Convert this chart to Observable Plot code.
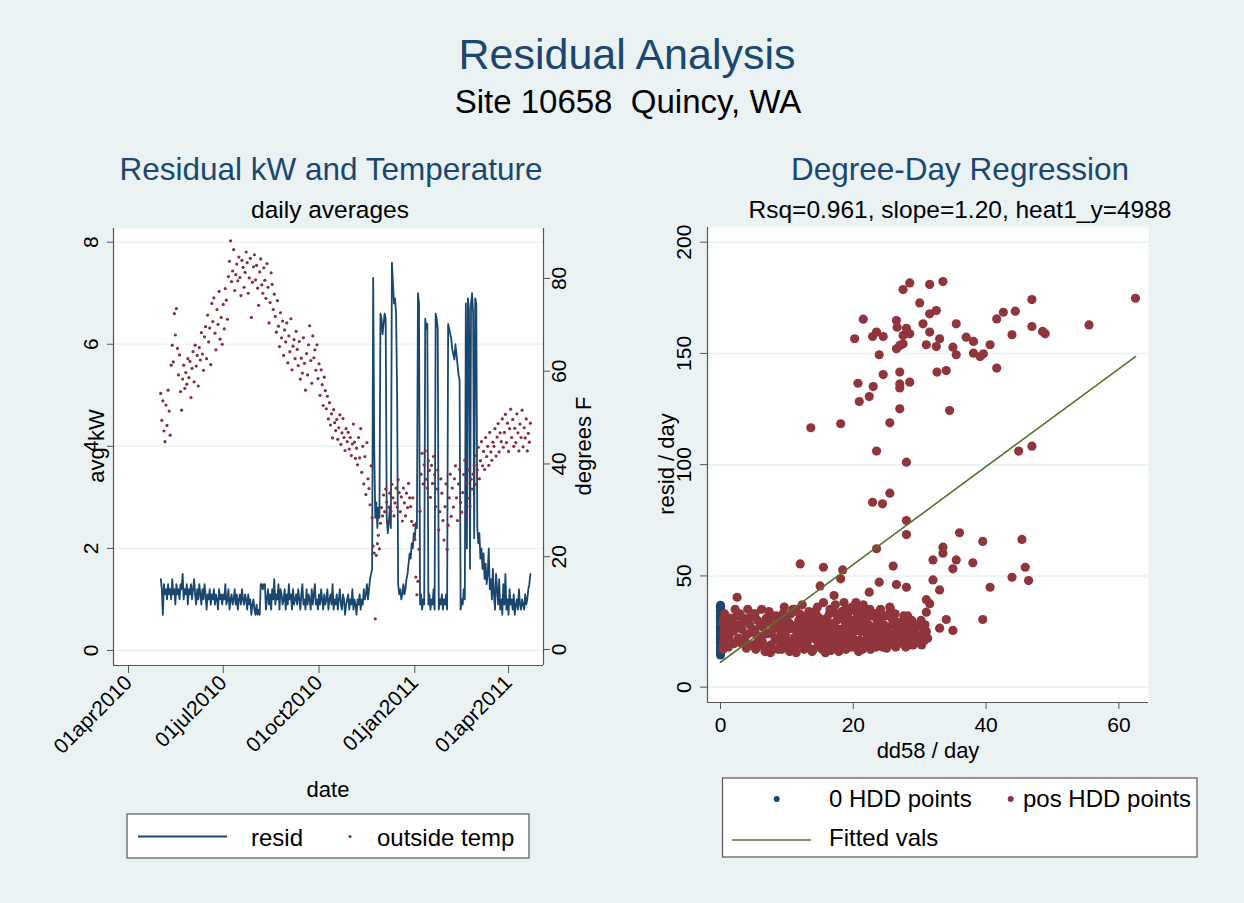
<!DOCTYPE html>
<html><head><meta charset="utf-8">
<script src="https://cdn.jsdelivr.net/npm/d3@7"></script>
<script src="https://cdn.jsdelivr.net/npm/@observablehq/plot@0.6"></script>
<style>
html,body{margin:0;padding:0;background:#ffffff;}
#chart{position:relative;width:1244px;height:903px;background:#eaf2f3;overflow:hidden;font-family:"Liberation Sans",Arial,Helvetica,sans-serif;}
#chart svg{position:absolute;overflow:visible;}
</style></head><body><div id="chart"></div>
<script>
// ---------------- DATA ----------------
const startDate = "2010-05-02"; // first daily observation
// daily average outside temperature (deg F), one value per day from startDate
const tempF = [
55.2,49.4,53.6,47.1,44.8,52.7,48.3,55.9,51.4,46.2, 61.3,65.6,62.0,72.4,67.8,73.5,64.9,59.2,63.5,55.6,
51.6,58.3,61.3,56.3,59.7,57.2,62.7,58.6,62.1,54.3, 60.6,64.2,57.7,65.6,61.1,63.4,56.8,65.1,62.4,68.3,
63.7,60.2,67.4,69.6,62.7,72.1,66.3,69.3,61.4,74.6, 70.7,75.8,68.2,64.6,73.3,70.1,77.2,66.9,71.6,65.8,
74.4,69.1,77.8,75.3,71.2,80.4,83.7,88.1,79.3,81.6, 86.2,77.4,80.8,83.1,79.5,84.6,80.2,76.3,83.9,82.4,
78.1,81.3,85.7,83.4,76.8,80.1,84.3,71.6,79.2,82.5, 85.1,79.7,82.8,77.9,74.2,81.4,84.2,78.6,76.8,82.3,
79.6,75.7,83.2,78.1,70.4,74.8,81.2,78.7,73.3,76.6, 71.8,68.4,75.2,69.7,65.3,72.6,67.2,70.8,63.4,68.9,
66.3,70.4,61.8,67.6,64.2,71.3,60.3,65.4,66.8,62.7, 68.6,64.7,61.2,66.4,58.3,62.8,59.6,67.2,61.7,55.9,
63.8,59.2,65.7,69.8,62.3,57.4,67.6,62.9,64.6,60.2, 65.7,58.4,61.6,54.8,60.3,57.1,52.6,58.7,55.8,51.9,
54.6,49.7,53.2,48.4,50.8,45.6,51.7,48.9,47.2,49.6, 45.3,47.8,50.6,44.2,46.7,49.8,45.7,42.9,47.6,44.8,
46.8,43.2,45.7,41.8,44.3,48.6,44.7,41.2,43.4,39.8, 45.7,41.3,47.6,38.2,43.8,35.7,41.6,33.4,44.6,36.8,
34.7,31.2,39.6,28.4,22.3,20.8,6.6,20.3,22.8,24.6, 21.7,27.2,30.6,28.8,33.3,29.7,34.6,31.8,27.6,30.7,
33.7,29.8,35.6,32.7,28.8,31.6,34.8,30.7,36.6,33.8, 29.7,32.9,27.7,34.8,31.6,28.8,33.7,30.6,35.8,32.7,
30.8,27.6,32.7,26.8,23.7,15.6,11.8,14.7,21.6,29.8, 37.8,42.3,35.7,39.8,42.8,36.7,34.8,40.7,38.6,32.8,
39.7,35.8,41.6,37.7,30.8,34.6,38.7,25.8,29.7,36.8, 33.7,27.8,23.6,30.8,35.7,21.6,26.8,32.7,37.8,28.7,
34.8,30.7,36.8,39.6,32.7,27.8,35.7,38.8,31.7,29.6, 33.8,37.7,40.8,28.7,35.8,32.6,38.7,30.8,36.7,34.6,
37.8,39.7,35.6,41.8,38.7,43.6,36.8,40.7,44.8,39.6, 42.7,38.8,45.7,41.6,43.8,39.7,46.8,42.6,40.8,44.7,
43.8,47.6,41.7,45.8,48.7,42.6,46.7,44.8,49.7,43.6, 46.8,50.7,44.6,48.8,42.7,47.6,51.8,45.7,49.6,43.8,
47.7,44.6,50.8,46.7,42.8,48.6,45.7,51.6,43.7,47.8, 45.6,49.7,42.8,46.6,44.7,48.8
];
// daily average residual kW, one value per day from startDate
const residKW = [
1.4,1.2,0.7,1.3,1.1,1.2,1.0,1.3,1.1,1.2, 1.0,1.4,1.1,1.2,0.9,1.3,1.1,1.2,1.0,1.3,
1.2,1.5,1.0,1.2,1.1,1.3,0.9,1.2,1.1,1.3, 1.0,1.2,1.4,1.1,0.9,1.2,1.0,1.3,1.1,0.9,
1.2,1.0,1.3,1.1,0.8,1.1,1.0,1.2,0.9,1.1, 1.0,1.2,0.9,1.1,1.0,0.8,1.2,1.0,1.1,0.9,
1.1,1.0,1.3,0.9,1.0,1.2,0.8,1.0,1.1,0.9, 1.0,1.2,0.9,1.1,0.8,1.0,1.1,0.9,1.2,1.0,
0.9,1.1,1.0,0.8,1.1,0.9,1.0,0.7,0.9,1.0, 0.8,0.7,0.9,0.7,0.8,0.7,1.3,1.3,1.2,1.3,
1.3,0.8,1.0,1.2,0.9,1.1,0.8,1.2,1.0,1.4, 0.9,1.1,1.0,1.3,0.8,1.2,1.1,0.9,1.0,1.2,
0.8,1.1,0.9,1.3,1.0,1.1,0.8,1.2,0.9,1.0, 1.1,0.9,1.2,1.0,0.8,1.1,1.3,0.9,1.0,0.8,
1.2,0.9,1.1,1.0,0.8,1.2,0.9,1.1,1.3,0.9, 1.0,0.8,1.1,0.9,1.2,1.0,0.8,1.1,0.9,1.0,
1.2,0.8,1.0,1.1,0.9,1.3,0.8,1.0,0.9,1.1, 0.8,1.0,1.2,0.9,0.8,1.1,1.0,0.7,0.9,1.0,
1.1,0.8,1.0,0.9,1.2,0.8,1.0,0.9,0.7,1.0, 0.9,1.1,0.8,1.0,0.9,1.2,1.0,1.1,1.3,1.0,
1.2,1.4,1.5,1.6,7.3,4.0,2.6,2.9,2.4,2.8, 2.6,6.6,6.5,6.2,6.4,6.6,6.5,2.6,2.3,2.5,
2.8,2.4,7.6,7.2,6.8,6.9,6.6,5.0,1.3,1.1, 1.2,1.0,1.1,1.3,1.1,1.2,1.4,1.5,1.7,1.9,
1.8,2.1,2.0,2.3,2.2,2.5,2.4,7.0,6.8,0.9, 1.1,0.8,1.0,0.9,6.5,6.3,6.4,0.9,1.1,0.8,
1.0,0.9,1.2,0.8,6.6,6.5,6.3,0.8,1.0,0.9, 1.1,0.8,1.0,0.9,1.1,0.8,6.4,6.3,6.2,6.1,
5.9,5.8,5.7,6.0,5.8,5.6,5.4,5.3,0.8,1.0, 0.9,1.2,1.0,6.8,2.0,6.9,6.7,1.6,6.8,7.0,
6.6,2.2,6.9,6.8,2.4,2.1,2.3,1.8,2.0,1.6, 1.9,1.4,1.7,1.3,1.5,2.0,1.2,1.4,1.0,1.6,
1.1,0.8,1.5,1.2,0.9,1.4,0.8,1.0,0.7,1.3, 0.9,1.5,0.8,1.0,0.7,1.2,0.9,1.0,0.8,1.1,
0.7,0.9,1.0,0.8,1.2,0.9,0.8,1.0,0.9,0.8, 1.1,0.9,1.0,1.2,1.3,1.5
];
const dateTicks = ["2010-04-01","2010-07-01","2010-10-01","2011-01-01","2011-04-01"];
const kwTicks = [0,2,4,6,8];
const tempTicks = [0,20,40,60,80];
// right-hand temperature axis alignment with the kW axis (kW position of 0 F and 80 F)
const tempAxisAt0 = 0.02, tempAxisAt80 = 7.29;

// Degree-day regression: residual per day vs dd58 per day
const zeroHddResid = [14.5,15.8,17.2,18.1,19.6,20.4,21.9,22.7,23.3,24.8,25.5,26.1,27.4,28.9,29.5,30.2,31.7,32.4,33.8,34.6,35.9,36.8,16.5,21.2,26.7,30.9];
const posHddPoints = [
[13.6,116.6],[18.1,118.4],[20.2,156.6],[21.5,165.4],[20.7,136.6],[20.9,128.4],[22.4,130.6],[23.0,135.1],[22.9,157.6],[23.5,159.6],
[24.5,157.6],[23.9,149.4],[24.5,140.5],[23.5,106.1],[25.5,118.8],[27.0,125.1],[27.0,141.6],[27.0,136.3],[27.0,134.5],[28.5,137.1],
[28.0,101.1],[27.5,178.7],[28.5,181.7],[26.5,164.8],[26.6,161.8],[28.0,161.3],[28.5,158.8],[27.5,158.1],[27.5,154.3],[26.5,152.1],
[27.0,153.6],[30.0,172.7],[30.5,163.3],[31.5,181.0],[31.5,167.8],[32.5,169.3],[31.5,159.6],[31.0,153.9],[33.0,156.6],[32.5,153.1],
[32.6,141.6],[33.5,182.3],[34.0,142.3],[34.5,124.3],[35.0,152.8],[35.5,163.3],[35.5,149.4],[37.0,157.3],[38.1,155.4],[38.1,150.1],
[39.1,148.6],[39.6,149.8],[40.6,153.9],[41.6,165.5],[42.6,168.5],[41.6,143.4],[43.9,158.4],[44.4,169.0],[44.9,106.1],[46.9,108.3],
[46.9,174.2],[46.9,162.1],[48.5,159.9],[48.9,158.8],[55.5,162.8],[62.5,174.8],
[22.9,83.1],[24.4,82.4],[25.5,87.2],[28.0,74.9],[28.0,68.6],[23.5,62.2],[36.0,69.4],[39.5,65.5],[45.4,66.4],[32.0,57.2],
[33.5,62.9],[33.5,60.2],[35.5,57.2],[38.0,55.9],[35.0,53.2],[45.9,53.9],[46.4,47.9],[43.9,49.4],[40.6,44.9],[32.0,48.2],
[33.0,43.7],[31.0,39.3],[31.5,37.5],[31.0,33.7],[34.0,30.4],[39.5,30.4],[33.0,26.5],[35.0,25.5],[12.0,55.4],[15.5,53.9],
[15.0,45.5],[18.4,52.7],[18.1,48.7],[17.1,41.2],[22.4,42.7],[23.9,47.2],[26.0,54.4],[26.5,46.1],[28.0,44.9],[28.0,31.2],
[25.5,36.0],[2.5,40.4],
[0.4,29],[0.5,24],[0.4,19],[0.6,33],[0.7,27],[0.5,21],
[1.5,31],[1.8,25],[2.2,35],[2.5,28],[2.7,22],[1.2,18],[2.9,33],
[3.2,26],[3.5,31],[3.8,23],[4.1,35],[4.4,28],[4.6,19],[4.8,33],[3.6,21],
[5.1,25],[5.3,17],[5.6,30],[5.9,22],[6.2,35],[6.4,27],[6.7,16],[6.9,31],[5.5,20],
[7.1,24],[7.3,34],[7.6,19],[7.9,28],[8.2,22],[8.4,32],[8.7,17],[8.9,26],[7.5,15.5],
[9.1,30],[9.3,20],[9.6,36],[9.8,24],[10.1,18],[10.3,29],[10.6,33],[10.8,21],[9.5,27],[10.4,16],
[11.1,26],[11.3,35],[11.6,19],[11.8,30],[12.1,23],[12.3,37],[12.6,17],[12.8,28],[11.4,15.5],[12.2,32],
[13.1,21],[13.3,34],[13.6,26],[13.8,16],[14.1,30],[14.3,24],[14.6,36],[14.8,19],[13.5,29],[14.4,33],
[15.1,27],[15.3,17],[15.5,38],[15.7,22],[16.0,31],[16.2,25],[16.5,35],[16.7,19],[16.9,28],[15.8,15.5],[16.4,33],
[17.1,23],[17.3,37],[17.5,30],[17.8,16],[18.0,26],[18.3,34],[18.5,20],[18.8,29],[17.6,21],[18.6,38],[18.2,17],
[19.1,32],[19.3,24],[19.6,18],[19.8,36],[20.1,27],[20.3,21],[20.6,33],[20.8,16],[19.5,28],[20.4,38],
[21.1,25],[21.3,30],[21.6,19],[21.8,35],[22.1,23],[22.3,28],[22.6,17],[22.8,32],[21.5,37],[22.4,21],
[23.1,26],[23.3,20],[23.6,30],[23.9,24],[24.1,35],[24.4,18],[24.6,28],[24.9,22],[23.5,33],
[25.2,27],[25.5,20],[25.8,31],[26.1,24],[26.4,18],[26.7,29],[26.9,22],[25.6,35],[26.3,33],
[27.2,26],[27.5,20],[27.8,30],[28.1,24],[28.4,19],[28.7,28],[28.9,22],[28.2,32],
[29.2,25],[29.5,20],[29.8,28],[30.1,23],[30.4,27],[30.7,21],[31.0,25],[30.3,19],
[1.0,27],[1.3,22],[1.7,29],[2.0,19.5],[2.4,32],[2.0,25.5],[3.0,20],[3.3,29],[3.9,17.5],[4.2,24],[4.5,31.5],[4.9,26],
[5.2,33],[5.4,23.5],[5.8,18.5],[6.0,27.5],[6.3,20.5],[6.6,29],[6.8,24],[7.0,18],[7.2,29.5],[7.7,25],[7.8,32],[8.0,17],[8.3,27],[8.6,21],[8.8,30],
[9.0,23],[9.2,17],[9.4,33],[9.7,21.5],[9.9,31],[10.2,26],[10.5,19],[10.7,27.5],[10.9,35],
[11.0,22],[11.2,17.5],[11.5,28],[11.7,24],[11.9,33],[12.0,20],[12.4,26],[12.7,31],[12.9,19],
[13.0,24],[13.2,18],[13.4,31],[13.7,22],[13.9,28],[14.0,17],[14.2,34],[14.5,21],[14.7,27],[14.9,31],
[15.0,20],[15.2,24],[15.4,30],[15.6,18],[15.9,27],[16.1,21],[16.3,29],[16.6,16.5],[16.8,24],[16.9,35],
[17.0,19],[17.2,27],[17.4,33],[17.7,24],[17.9,18.5],[18.1,31],[18.4,23],[18.7,26],[18.9,17],[18.9,35],
[19.0,21],[19.2,27],[19.4,34],[19.7,22],[19.9,30],[20.0,18],[20.2,25],[20.5,29],[20.7,19],[20.9,35],
[21.0,21],[21.2,27],[21.4,17],[21.7,32],[21.9,20],[22.0,29],[22.2,25],[22.5,35],[22.7,19],[22.9,27],
[23.0,23],[23.2,33],[23.4,18],[23.7,27],[23.8,21],[24.0,31],[24.3,25],[24.5,20],[24.8,32],[24.9,26],
[25.0,17.5],[25.3,24],[25.4,33],[25.7,22],[25.9,28],[26.0,19],[26.2,30],[26.5,25],[26.8,19.5],
[27.0,29],[27.3,23],[27.6,32],[27.9,18],[28.0,27],[28.3,21],[28.6,25],[28.8,30],
[29.0,19],[29.3,27],[29.6,23],[29.9,21],[30.2,30],[30.5,24],[30.8,28],[31.2,22],
[0.5,31],[0.6,26],[0.4,17],[0.7,23],[0.8,29]
];
const fittedDD = [0, 62.5];
const fittedResid = [11.2, 148.6];
const ddTicks = [0,20,40,60];
const residTicks = [0,50,100,150,200];

// ---------------- STYLE ----------------
const FONT = '"Liberation Sans", Arial, Helvetica, sans-serif';
const navy = "#1a476f", maroon = "#90353b", green = "#55752f";
const gridColor = "#eaf2f3", axisColor = "#555555";

const start = new Date(startDate + "T00:00Z");
const daily = residKW.map((v, i) => ({date: d3.utcDay.offset(start, i), kw: v}));
const temps = tempF.map((v, i) => ({date: d3.utcDay.offset(start, i), t: v}));
const kwOf = t => tempAxisAt0 + t * (tempAxisAt80 - tempAxisAt0) / 80;
const tempOf = k => (k - tempAxisAt0) * 80 / (tempAxisAt80 - tempAxisAt0);
const fmtDate = d3.utcFormat("%d%b%Y");

const xDomL = [new Date("2010-03-17T14:10Z"), new Date("2011-05-04T14:00Z")];
const yDomL = [-0.294, 8.268];

const left = Plot.plot({
  width: 622, height: 903,
  marginLeft: 113, marginRight: 79, marginTop: 228, marginBottom: 238,
  style: {background: "transparent", fontFamily: FONT, fontSize: "21px", color: "#000", overflow: "visible"},
  x: {type: "utc", domain: xDomL},
  y: {domain: yDomL},
  marks: [
    Plot.frame({fill: "white", stroke: null}),
    Plot.gridY(kwTicks, {stroke: gridColor, strokeOpacity: 1, strokeWidth: 1.5}),
    Plot.line(daily, {x: "date", y: "kw", stroke: navy, strokeWidth: 1.8}),
    Plot.dot(temps, {x: "date", y: d => kwOf(d.t), r: 1.6, fill: "#86303a"}),
    Plot.axisY(kwTicks, {anchor: "left", tickSize: 6, tickPadding: 10, tickRotate: -90, tickFormat: d => String(d),
      label: null, stroke: axisColor, fill: "#000", fontSize: 21}),
    Plot.axisY(tempTicks.map(kwOf), {anchor: "right", tickSize: 6, tickPadding: 2, tickRotate: -90, lineAnchor: "top",
      tickFormat: d => String(Math.round(tempOf(d))), label: null, stroke: axisColor, fill: "#000", fontSize: 21}),
    Plot.axisX(dateTicks.map(d => new Date(d + "T00:00Z")), {anchor: "bottom", tickSize: 8, tickRotate: -45,
      tickFormat: d => fmtDate(d).toLowerCase(), label: null, stroke: axisColor, fill: "#000", fontSize: 21}),
    Plot.ruleX([xDomL[0], xDomL[1]], {y1: yDomL[0], y2: yDomL[1], stroke: axisColor, strokeWidth: 1.2}),
    Plot.ruleY([yDomL[0]], {x1: xDomL[0], x2: xDomL[1], stroke: axisColor, strokeWidth: 1.2})
  ]
});
left.style.left = "0px"; left.style.top = "0px";

const xDomR = [-1.96, 64.46];
const yDomR = [-6.9, 206.6];
const zeroHdd = zeroHddResid.map(r => ({dd: 0, resid: r}));
const posHdd = posHddPoints.map(([dd, r]) => ({dd, resid: r}));
const fitted = fittedDD.map((dd, i) => ({dd, resid: fittedResid[i]}));

const right = Plot.plot({
  width: 622, height: 903,
  marginLeft: 85, marginRight: 96, marginTop: 227, marginBottom: 201,
  style: {background: "transparent", fontFamily: FONT, fontSize: "21px", color: "#000", overflow: "visible"},
  x: {domain: xDomR},
  y: {domain: yDomR},
  marks: [
    Plot.frame({fill: "white", stroke: null}),
    Plot.gridY(residTicks, {stroke: gridColor, strokeOpacity: 1, strokeWidth: 1.5}),
    Plot.dot(zeroHdd, {x: "dd", y: "resid", r: 4.6, fill: navy}),
    Plot.dot(posHdd, {x: "dd", y: "resid", r: 4.6, fill: maroon}),
    Plot.line(fitted, {x: "dd", y: "resid", stroke: green, strokeWidth: 1.6}),
    Plot.axisY(residTicks, {anchor: "left", tickSize: 7, tickPadding: 10, tickRotate: -90, label: null, stroke: axisColor, fill: "#000", fontSize: 21}),
    Plot.axisX(ddTicks, {anchor: "bottom", tickSize: 7, tickPadding: 8, label: null, stroke: axisColor, fill: "#000", fontSize: 21}),
    Plot.ruleX([xDomR[0]], {y1: yDomR[0], y2: yDomR[1], stroke: axisColor, strokeWidth: 1.2}),
    Plot.ruleY([yDomR[0]], {x1: xDomR[0], x2: xDomR[1], stroke: axisColor, strokeWidth: 1.2})
  ]
});
right.style.left = "622px"; right.style.top = "0px";

const chart = document.getElementById("chart");
chart.appendChild(left);
chart.appendChild(right);

// ---------------- TITLES, AXIS TITLES, LEGENDS ----------------
const ov = d3.create("svg").attr("width", 1244).attr("height", 903)
  .style("left", "0px").style("top", "0px").style("pointer-events", "none")
  .style("font-family", FONT);
function txt(s, x, y, size, color, anchor = "middle", rot = 0) {
  return ov.append("text").attr("x", 0).attr("y", 0)
    .attr("transform", `translate(${x},${y})` + (rot ? ` rotate(${rot})` : ""))
    .attr("text-anchor", anchor).attr("font-size", size).attr("fill", color)
    .style("white-space", "pre").text(s);
}
txt("Residual Analysis", 627, 69, 43, navy);
txt("Site 10658  Quincy, WA", 628, 113, 33, "#000");
txt("Residual kW and Temperature", 331, 180, 31.5, navy);
txt("daily averages", 330, 218, 24.5, "#000");
txt("Degree-Day Regression", 960, 180, 31.5, navy);
txt("Rsq=0.961, slope=1.20, heat1_y=4988", 960, 218, 24.5, "#000");
// axis titles
txt("avg kW", 104, 446, 22, "#000", "middle", -90);
txt("degrees F", 591, 446, 22, "#000", "middle", -90);
txt("date", 328, 797, 22, "#000");
txt("resid / day", 674, 464, 22, "#000", "middle", -90);
txt("dd58 / day", 928, 758, 22, "#000");

// left legend
ov.append("rect").attr("x", 127).attr("y", 814).attr("width", 402).attr("height", 44)
  .attr("fill", "#fff").attr("stroke", "#555").attr("stroke-width", 1.2);
ov.append("line").attr("x1", 138).attr("x2", 227).attr("y1", 836.5).attr("y2", 836.5)
  .attr("stroke", navy).attr("stroke-width", 1.8);
txt("resid", 251, 846, 24, "#000", "start");
ov.append("circle").attr("cx", 350).attr("cy", 836.5).attr("r", 1.6).attr("fill", "#86303a");
txt("outside temp", 377, 846, 24, "#000", "start");

// right legend
ov.append("rect").attr("x", 722.5).attr("y", 778).attr("width", 474.5).attr("height", 79)
  .attr("fill", "#fff").attr("stroke", "#555").attr("stroke-width", 1.2);
ov.append("circle").attr("cx", 776.7).attr("cy", 799).attr("r", 3).attr("fill", navy);
txt("0 HDD points", 829, 807, 24, "#000", "start");
ov.append("circle").attr("cx", 1010.7).attr("cy", 799).attr("r", 3).attr("fill", maroon);
txt("pos HDD points", 1023, 807, 24, "#000", "start");
ov.append("line").attr("x1", 732).attr("x2", 811).attr("y1", 840).attr("y2", 840)
  .attr("stroke", green).attr("stroke-width", 1.6);
txt("Fitted vals", 829, 846, 24, "#000", "start");

chart.appendChild(ov.node());
</script>
</body></html>
